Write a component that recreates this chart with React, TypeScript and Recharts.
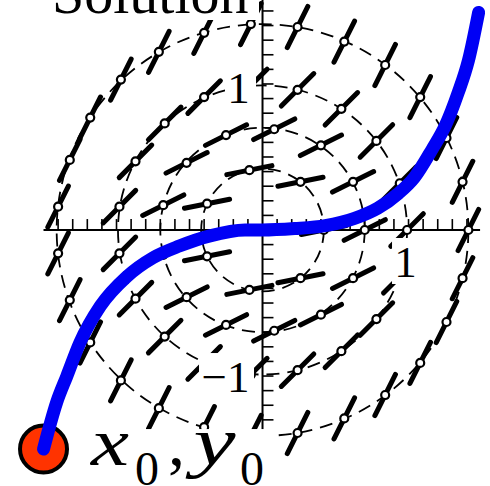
import {
  ComposedChart,
  Line,
  ReferenceDot,
  ReferenceLine,
  Scatter,
  XAxis,
  YAxis,
} from "recharts";

const W = 490;
const H = 486;
const X_DOMAIN: [number, number] = [-1.798, 1.558];
const Y_DOMAIN: [number, number] = [-1.753, 1.575];
// pixels per unit (both axes use the same scale)
const PX = W / (X_DOMAIN[1] - X_DOMAIN[0]);

const serif = "'Liberation Serif', 'Times New Roman', serif";

// isoclines of y' = x^2 + y^2 : radius and slope on each circle
const isoRadius = [0.42, 0.7, 0.99, 1.41];
const isoSlope = [0.2, 0.5, 1, 2];

// slope marks sitting on each isocline
const ringA = [
  [0.42, 0], [0.26, 0.33], [-0.09, 0.41], [-0.38, 0.18], [-0.38, -0.18], [-0.09, -0.41], [0.26, -0.33],
];
const ringB = [
  [0.7, 0], [0.62, 0.33], [0.4, 0.58], [0.08, 0.69], [-0.25, 0.65], [-0.52, 0.46], [-0.68, 0.17],
  [-0.68, -0.17], [-0.52, -0.46], [-0.25, -0.65], [0.08, -0.69], [0.4, -0.58], [0.62, -0.33],
];
const ringC = [
  [0.99, 0], [0.94, 0.32], [0.78, 0.61], [0.54, 0.83], [0.24, 0.96], [-0.08, 0.99], [-0.4, 0.91],
  [-0.67, 0.73], [-0.87, 0.47], [-0.98, 0.16], [-0.98, -0.16], [-0.87, -0.47], [-0.67, -0.73],
  [-0.4, -0.91], [-0.08, -0.99], [0.24, -0.96], [0.54, -0.83], [0.78, -0.61], [0.94, -0.32],
];
const ringD = [
  [1.41, 0], [1.37, 0.33], [1.26, 0.63], [1.08, 0.91], [0.84, 1.13], [0.56, 1.29], [0.24, 1.39],
  [-0.08, 1.41], [-0.4, 1.35], [-0.71, 1.22], [-0.97, 1.03], [-1.18, 0.77], [-1.32, 0.48],
  [-1.4, 0.16], [-1.4, -0.16], [-1.32, -0.48], [-1.18, -0.77], [-0.97, -1.03], [-0.71, -1.22],
  [-0.4, -1.35], [-0.08, -1.41], [0.24, -1.39], [0.56, -1.29], [0.84, -1.13], [1.08, -0.91],
  [1.26, -0.63], [1.37, -0.33],
];

// solution curve through (x0, y0)
const x0 = -1.5;
const y0 = -1.5;
const solX = [-1.5, -1.41, -1.34, -1.25, -1.11, -0.93, -0.75, -0.57, -0.36, -0.12, 0, 0.22, 0.43, 0.63, 0.79, 0.93, 1.04, 1.16, 1.25, 1.34, 1.41, 1.48];
const solY = [-1.5, -1.18, -1.0, -0.77, -0.52, -0.32, -0.19, -0.11, -0.04, 0, 0, 0.01, 0.03, 0.08, 0.15, 0.25, 0.36, 0.55, 0.71, 0.94, 1.16, 1.49];

const xTicks = [
  -1.4, -1.3, -1.2, -1.1, -1.0, -0.9, -0.8, -0.7, -0.6, -0.5, -0.4, -0.3, -0.2, -0.1,
  0.1, 0.2, 0.3, 0.4, 0.5, 0.6, 0.7, 0.8, 0.9, 1.0, 1.1, 1.2, 1.3, 1.4,
];
const yTicks = [
  -1.4, -1.3, -1.2, -1.1, -1.0, -0.9, -0.8, -0.7, -0.6, -0.5, -0.4, -0.3, -0.2, -0.1,
  0.1, 0.2, 0.3, 0.4, 0.5, 0.6, 0.7, 0.8, 0.9, 1.0, 1.1, 1.2, 1.3, 1.4, 1.5,
];
const TICK = 0.075;

const segments = [ringA, ringB, ringC, ringD].flatMap((ring, i) =>
  ring.map(([x, y]) => ({ x, y, slope: isoSlope[i] }))
);
const solution = solX.map((x, i) => ({ x, y: solY[i] }));

const SEG = 46;

function SlopeMark(props: any) {
  const { cx, cy, payload } = props;
  if (cx == null || cy == null) return null;
  const s = payload.slope;
  const n = Math.hypot(1, s);
  const dx = SEG / 2 / n;
  const dy = ((SEG / 2) * s) / n;
  return (
    <g>
      <line
        x1={cx - dx}
        y1={cy + dy}
        x2={cx + dx}
        y2={cy - dy}
        stroke="#000"
        strokeWidth={5}
        strokeLinecap="round"
      />
      <circle cx={cx} cy={cy} r={4} fill="#fff" stroke="#000" strokeWidth={2.2} />
    </g>
  );
}

// white-backed tick label drawn relative to its anchor point
function boxed(text: string, dx: number, dy: number, box: [number, number, number, number]) {
  return (p: any) => (
    <g>
      <rect x={p.cx + box[0]} y={p.cy + box[1]} width={box[2]} height={box[3]} fill="#fff" />
      <text x={p.cx + dx} y={p.cy + dy} textAnchor="middle" fontFamily={serif} fontSize={45} fill="#000">
        {text}
      </text>
    </g>
  );
}

function PointLabel(p: any) {
  const { cx, cy } = p;
  return (
    <g fill="#000">
      <rect x={cx + 42.5} y={cy - 20} width={190} height={70} fill="#fff" />
      <text x={cx + 47.5} y={cy + 16} fontFamily={serif} fontStyle="italic" fontSize={68} textLength={38} lengthAdjust="spacingAndGlyphs">
        x
      </text>
      <text x={cx + 91.5} y={cy + 36} fontFamily={serif} fontSize={48}>
        0
      </text>
      <text x={cx + 124.5} y={cy + 16} fontFamily={serif} fontSize={68}>
        ,
      </text>
      <text x={cx + 150} y={cy + 16} fontFamily={serif} fontStyle="italic" fontSize={68} textLength={42} lengthAdjust="spacingAndGlyphs">
        y
      </text>
      <text x={cx + 196.5} y={cy + 36} fontFamily={serif} fontSize={48}>
        0
      </text>
    </g>
  );
}

export default function App() {
  return (
    <div style={{ position: "absolute", left: 0, top: 0, width: W, height: H, background: "#fff", overflow: "hidden" }}>
      <ComposedChart width={W} height={H} margin={{ top: 0, right: 0, bottom: 0, left: 0 }}>
        <XAxis type="number" dataKey="x" domain={X_DOMAIN} allowDataOverflow hide />
        <YAxis type="number" dataKey="y" domain={Y_DOMAIN} allowDataOverflow hide />

        {isoRadius.map((r) => (
          <ReferenceDot
            key={`iso-${r}`}
            x={0}
            y={0}
            r={r * PX}
            zIndex={10}
            shape={(p: any) => (
              <circle cx={p.cx} cy={p.cy} r={r * PX} fill="none" stroke="#000" strokeWidth={1.8} strokeDasharray="13 8" />
            )}
          />
        ))}

        <ReferenceLine segment={[{ x: -1.5, y: 0 }, { x: 1.49, y: 0 }]} stroke="#000" strokeWidth={2} zIndex={20} />
        <ReferenceLine segment={[{ x: 0, y: -1.55 }, { x: 0, y: 1.575 }]} stroke="#000" strokeWidth={2} zIndex={20} />
        {xTicks.map((t) => (
          <ReferenceLine key={`xt-${t}`} segment={[{ x: t, y: 0 }, { x: t, y: TICK }]} stroke="#000" strokeWidth={1.6} zIndex={20} />
        ))}
        {yTicks.map((t) => (
          <ReferenceLine key={`yt-${t}`} segment={[{ x: 0, y: t }, { x: TICK, y: t }]} stroke="#000" strokeWidth={1.6} zIndex={20} />
        ))}

        <Scatter data={segments} dataKey="y" shape={SlopeMark} isAnimationActive={false} zIndex={600} />

        <ReferenceDot x={x0} y={y0} r={23.5} fill="#ff3300" stroke="#000" strokeWidth={4} zIndex={650} />

        <Line
          data={solution}
          dataKey="y"
          type="monotone"
          stroke="#0000f5"
          strokeWidth={13}
          strokeLinecap="round"
          strokeLinejoin="round"
          dot={false}
          activeDot={false}
          isAnimationActive={false}
          zIndex={700}
        />

        <ReferenceDot x={1} y={0} r={1} zIndex={2100} shape={boxed("1", -3, 47, [-16.5, 8, 28, 46])} />
        <ReferenceDot x={0} y={1} r={1} zIndex={2100} shape={boxed("1", -24, 19, [-37.5, -18, 31, 42])} />
        <ReferenceDot x={0} y={-1} r={1} zIndex={2100} shape={boxed("\u22121", -37, 16, [-63.5, -23, 55, 46])} />
        <ReferenceDot x={x0} y={y0} r={1} zIndex={2100} shape={PointLabel} />
      </ComposedChart>

      <svg width={W} height={H} style={{ position: "absolute", left: 0, top: 0, pointerEvents: "none" }}>
        <rect x={44} y={-60} width={215} height={80} fill="#fff" />
        <text x={52} y={13} fontFamily={serif} fontSize={58} fill="#000">
          Solution
        </text>
      </svg>
    </div>
  );
}
